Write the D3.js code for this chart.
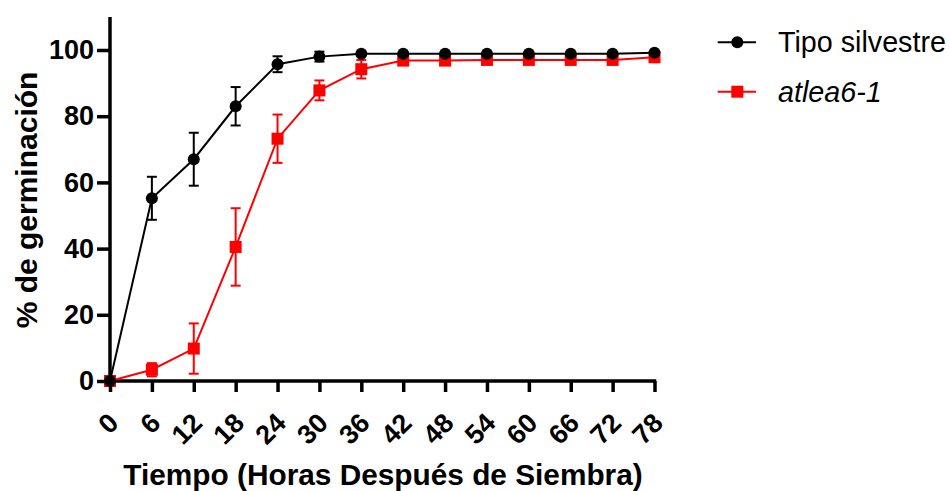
<!DOCTYPE html>
<html>
<head>
<meta charset="utf-8">
<script src="https://cdn.jsdelivr.net/npm/d3@7"></script>
<style>
  html, body { margin: 0; padding: 0; background: #fff; }
  svg { display: block; font-family: "Liberation Sans", Arial, sans-serif; }
</style>
</head>
<body>
<svg id="chart" width="950" height="491"></svg>
<script>
// Germination time course (hours after sowing)
const hours = [0, 6, 12, 18, 24, 30, 36, 42, 48, 54, 60, 66, 72, 78];
const wildTypeMean = [0, 55.2, 67.0, 83.0, 95.7, 98.0, 98.9, 98.9, 98.9, 98.9, 98.9, 98.9, 98.9, 99.2];
const wildTypeErr  = [0, 6.5, 8.0, 5.8, 2.4, 1.5, 0.5, 0.5, 0.5, 0.5, 0.5, 0.5, 0.5, 0.5];
const mutantMean   = [0, 3.4, 9.8, 40.5, 73.2, 87.8, 94.2, 96.8, 96.8, 97.0, 97.0, 97.0, 97.0, 97.8];
const mutantErr    = [0, 2.0, 7.6, 11.7, 7.3, 3.0, 2.8, 0.6, 0.6, 0.6, 0.6, 0.6, 0.6, 0.6];
const xTicks = [0, 6, 12, 18, 24, 30, 36, 42, 48, 54, 60, 66, 72, 78];
const yTicks = [0, 20, 40, 60, 80, 100];
const seriesNames = ["Tipo silvestre", "atlea6-1"];

const svg = d3.select("#chart");

const x = d3.scaleLinear().domain([0, 78]).range([110, 654.5]);
const y = d3.scaleLinear().domain([0, 110]).range([381, 16.9]);

const AXIS_W = 3.5;

// Axes
const xAxis = svg.append("g")
  .attr("transform", `translate(0,${y(0)})`)
  .call(d3.axisBottom(x).tickValues(xTicks).tickSize(11).tickSizeOuter(0).tickFormat(d3.format("d")));
xAxis.select(".domain").attr("stroke", "#000").attr("stroke-width", AXIS_W)
  .attr("d", `M${x(0) - AXIS_W / 2},0H${x(78) + AXIS_W / 2}`);
xAxis.selectAll(".tick line").attr("stroke", "#000").attr("stroke-width", AXIS_W);
xAxis.selectAll(".tick text")
  .attr("fill", "#000")
  .attr("font-size", 27)
  .attr("font-weight", "bold")
  .attr("text-anchor", "end")
  .attr("x", 0).attr("y", 0).attr("dy", "0.35em")
  .attr("transform", "translate(3,37) rotate(-45)");

const yAxis = svg.append("g")
  .attr("transform", `translate(${x(0)},0)`)
  .call(d3.axisLeft(y).tickValues(yTicks).tickSize(13).tickSizeOuter(0));
yAxis.select(".domain").attr("stroke", "#000").attr("stroke-width", AXIS_W)
  .attr("d", `M0,${y(110)}V${y(0) + AXIS_W / 2}`);
yAxis.selectAll(".tick line").attr("stroke", "#000").attr("stroke-width", AXIS_W);
yAxis.selectAll(".tick text")
  .attr("fill", "#000")
  .attr("font-size", 27)
  .attr("font-weight", "bold")
  .attr("x", -16);

// Axis titles
svg.append("text")
  .attr("x", 383).attr("y", 485)
  .attr("text-anchor", "middle")
  .attr("font-size", 29.8).attr("font-weight", "bold")
  .text("Tiempo (Horas Después de Siembra)");

svg.append("text")
  .attr("transform", "translate(37,200) rotate(-90)")
  .attr("text-anchor", "middle")
  .attr("font-size", 30).attr("font-weight", "bold")
  .text("% de germinación");

// Series
const series = [
  { name: seriesNames[1], mean: mutantMean, err: mutantErr, color: "#ff0000", shape: "square" },
  { name: seriesNames[0], mean: wildTypeMean, err: wildTypeErr, color: "#000000", shape: "circle" }
];

const line = d3.line().x(d => x(d.h)).y(d => y(d.v));
const CAP = 5;

series.forEach(s => {
  const pts = hours.map((h, i) => ({ h, v: s.mean[i], e: s.err[i] }));
  const g = svg.append("g");

  g.append("path")
    .datum(pts)
    .attr("fill", "none")
    .attr("stroke", s.color)
    .attr("stroke-width", 2)
    .attr("d", line);

  const eb = g.selectAll(".err").data(pts.filter(p => p.e > 0)).join("g");
  eb.append("line")
    .attr("x1", d => x(d.h)).attr("x2", d => x(d.h))
    .attr("y1", d => y(d.v + d.e)).attr("y2", d => y(d.v - d.e))
    .attr("stroke", s.color).attr("stroke-width", 2);
  [1, -1].forEach(sign => {
    eb.append("line")
      .attr("x1", d => x(d.h) - CAP).attr("x2", d => x(d.h) + CAP)
      .attr("y1", d => y(d.v + sign * d.e)).attr("y2", d => y(d.v + sign * d.e))
      .attr("stroke", s.color).attr("stroke-width", 2);
  });

  if (s.shape === "circle") {
    g.selectAll("circle").data(pts).join("circle")
      .attr("cx", d => x(d.h)).attr("cy", d => y(d.v)).attr("r", 6)
      .attr("fill", s.color);
  } else {
    g.selectAll("rect").data(pts).join("rect")
      .attr("x", d => x(d.h) - 6).attr("y", d => y(d.v) - 6)
      .attr("width", 12).attr("height", 12)
      .attr("fill", s.color);
  }
});

// Legend
const legend = [
  { name: seriesNames[0], color: "#000000", shape: "circle", cy: 42.3, italic: false },
  { name: seriesNames[1], color: "#ff0000", shape: "square", cy: 91.7, italic: true }
];
legend.forEach(l => {
  const g = svg.append("g");
  g.append("line")
    .attr("x1", 717.7).attr("x2", 756).attr("y1", l.cy).attr("y2", l.cy)
    .attr("stroke", l.color).attr("stroke-width", 2);
  if (l.shape === "circle") {
    g.append("circle").attr("cx", 737.3).attr("cy", l.cy).attr("r", 6).attr("fill", l.color);
  } else {
    g.append("rect").attr("x", 737.3 - 6).attr("y", l.cy - 6).attr("width", 12).attr("height", 12).attr("fill", l.color);
  }
  g.append("text")
    .attr("x", 778).attr("y", l.cy + 10)
    .attr("font-size", 28.7)
    .attr("font-style", l.italic ? "italic" : "normal")
    .attr("fill", "#000")
    .text(l.name);
});
</script>
</body>
</html>
